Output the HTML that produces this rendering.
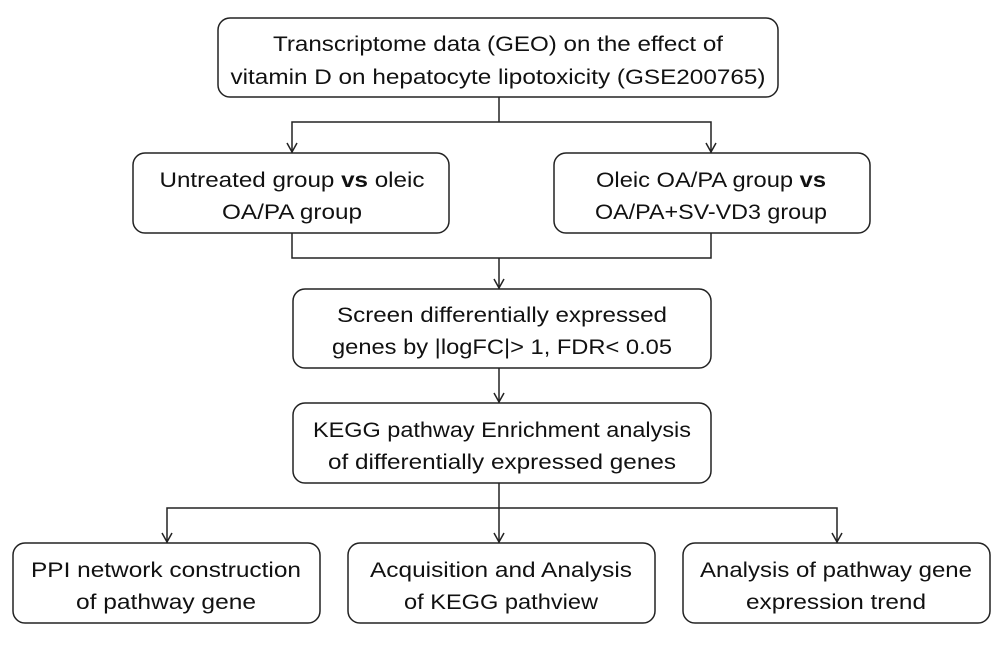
<!DOCTYPE html>
<html><head><meta charset="utf-8"><style>
body{margin:0;background:#fff;}
svg text{font-family:"Liberation Sans",sans-serif;font-size:21px;fill:#111;text-anchor:middle;}
rect{fill:#fff;stroke:#222;stroke-width:1.5;}
line,polyline{stroke:#222;stroke-width:1.5;fill:none;}
</style></head><body>
<svg width="1000" height="645" viewBox="0 0 1000 645" xmlns="http://www.w3.org/2000/svg">
<rect x="218" y="18" width="560" height="79" rx="12"/>
<text x="498" y="51" textLength="450" lengthAdjust="spacingAndGlyphs">Transcriptome data (GEO) on the effect of</text>
<text x="498" y="84" textLength="535" lengthAdjust="spacingAndGlyphs">vitamin D on hepatocyte lipotoxicity (GSE200765)</text>
<line x1="499" y1="97" x2="499" y2="122"/>
<polyline points="292,153 292,122 711,122 711,153"/>
<polyline points="287,143 292,152 297,143"/>
<polyline points="706,143 711,152 716,143"/>
<rect x="133" y="153" width="316" height="80" rx="12"/>
<text x="292" y="187" textLength="265" lengthAdjust="spacingAndGlyphs">Untreated group <tspan font-weight="bold">vs</tspan> oleic</text>
<text x="292" y="219" textLength="140" lengthAdjust="spacingAndGlyphs">OA/PA group</text>
<rect x="554" y="153" width="316" height="80" rx="12"/>
<text x="711" y="187" textLength="230" lengthAdjust="spacingAndGlyphs">Oleic OA/PA group <tspan font-weight="bold">vs</tspan></text>
<text x="711" y="219" textLength="232" lengthAdjust="spacingAndGlyphs">OA/PA+SV-VD3 group</text>
<polyline points="292,233 292,258 711,258 711,233"/>
<line x1="499" y1="258" x2="499" y2="289"/>
<polyline points="494,279 499,288 504,279"/>
<rect x="293" y="289" width="418" height="79" rx="12"/>
<text x="502" y="322" textLength="330" lengthAdjust="spacingAndGlyphs">Screen differentially expressed</text>
<text x="502" y="354" textLength="340" lengthAdjust="spacingAndGlyphs">genes by |logFC|&gt; 1, FDR&lt; 0.05</text>
<line x1="499" y1="368" x2="499" y2="403"/>
<polyline points="494,393 499,402 504,393"/>
<rect x="293" y="403" width="418" height="80" rx="12"/>
<text x="502" y="437" textLength="378" lengthAdjust="spacingAndGlyphs">KEGG pathway Enrichment analysis</text>
<text x="502" y="469" textLength="348" lengthAdjust="spacingAndGlyphs">of differentially expressed genes</text>
<line x1="499" y1="483" x2="499" y2="543"/>
<polyline points="167,543 167,508 837,508 837,543"/>
<polyline points="162,533 167,542 172,533"/>
<polyline points="494,533 499,542 504,533"/>
<polyline points="832,533 837,542 842,533"/>
<rect x="13" y="543" width="307" height="80" rx="12"/>
<text x="166" y="577" textLength="270" lengthAdjust="spacingAndGlyphs">PPI network construction</text>
<text x="166" y="609" textLength="180" lengthAdjust="spacingAndGlyphs">of pathway gene</text>
<rect x="348" y="543" width="307" height="80" rx="12"/>
<text x="501" y="577" textLength="262" lengthAdjust="spacingAndGlyphs">Acquisition and Analysis</text>
<text x="501" y="609" textLength="194" lengthAdjust="spacingAndGlyphs">of KEGG pathview</text>
<rect x="683" y="543" width="307" height="80" rx="12"/>
<text x="836" y="577" textLength="272" lengthAdjust="spacingAndGlyphs">Analysis of pathway gene</text>
<text x="836" y="609" textLength="180" lengthAdjust="spacingAndGlyphs">expression trend</text>
</svg>
</body></html>
